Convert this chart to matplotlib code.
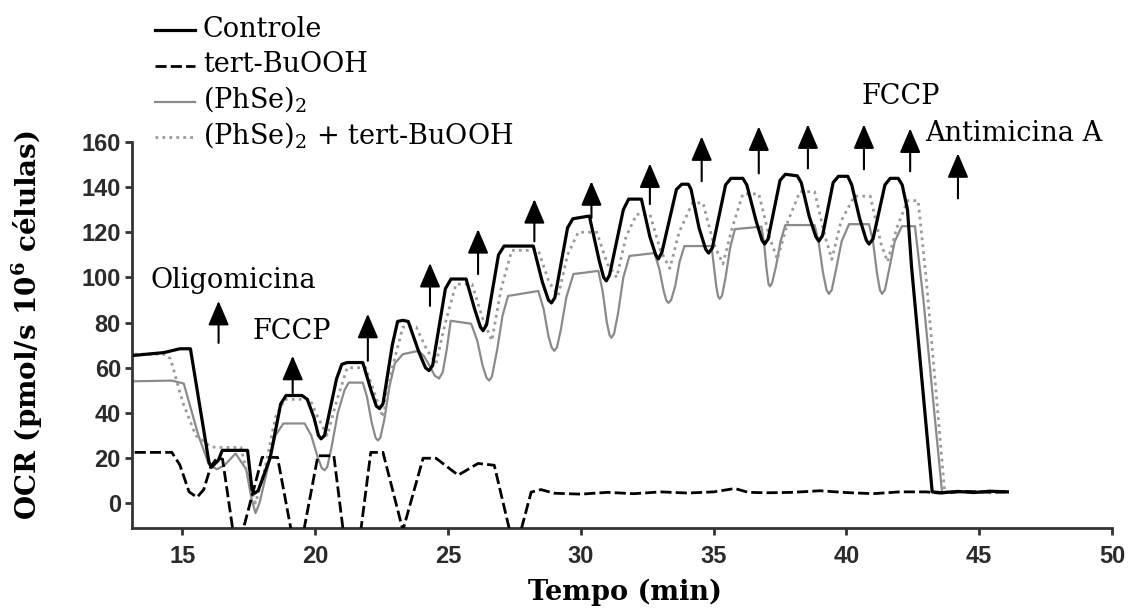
import matplotlib.pyplot as plt
from matplotlib.lines import Line2D

# ---------------- data ----------------
t_controle = [13.2, 14.3, 14.9, 15.3, 16.0, 16.1, 16.35, 16.5, 17.45, 17.62, 17.72, 17.85, 18.3, 18.7,
              18.9, 19.5, 19.7, 19.95, 20.12, 20.22, 20.35, 20.8, 21.0, 21.2, 21.79, 22.1, 22.3, 22.42,
              22.55, 22.9, 23.1, 23.3, 23.5, 23.9, 24.15, 24.28, 24.42, 24.9, 25.11, 25.68, 26.0, 26.22,
              26.32, 26.45, 26.9, 27.11, 28.21, 28.55, 28.78, 28.89, 29.02, 29.5, 29.7, 30.32, 30.7, 30.86,
              30.96, 31.08, 31.6, 31.8, 32.28, 32.6, 32.82, 32.92, 33.05, 33.6, 33.8, 34.05, 34.15, 34.45,
              34.7, 34.81, 34.95, 35.45, 35.65, 36.1, 36.25, 36.6, 36.82, 36.92, 37.05, 37.5, 37.7, 38.15,
              38.3, 38.6, 38.85, 38.96, 39.1, 39.5, 39.7, 40.05, 40.2, 40.5, 40.75, 40.85, 41.0, 41.45,
              41.65, 41.95, 42.1, 42.3, 42.45, 43.23, 43.6, 44.2, 44.8, 45.4, 46.06]
y_controle = [65.5, 66.7, 68.4, 68.4, 18, 16, 19, 23.4, 23.4, 6, 4.4, 5.5, 20, 44,
              47.7, 47.7, 46, 38, 30, 28.5, 30, 55, 61.5, 62.3, 62.3, 50, 43, 41.9,
              44, 70, 80.5, 81, 80.5, 67, 60, 58.7, 61, 95, 99.3, 99.3, 86, 78,
              76.4, 79, 110, 113.9, 113.9, 98, 90, 88.7, 91, 122, 126, 127.2, 107, 100,
              98.5, 101, 130, 134.7, 134.7, 118, 110, 108.2, 111, 139, 141.3, 141.3, 139, 122,
              112.5, 110.8, 113, 141, 143.9, 143.9, 141, 125, 116.5, 114.8, 117, 143, 145.7, 145,
              142, 127, 118, 116.1, 118.5, 142, 144.8, 144.8, 141, 126, 116.5, 114.8, 117, 141,
              143.9, 143.9, 141, 130, 105, 5, 4.6, 5.2, 4.7, 5.3, 5]

t_tbuooh = [13.2, 14.6, 14.9, 15.25, 15.55, 15.8, 16.06, 16.3, 16.51, 17.01, 17.3, 18.0, 18.58, 19.33,
            20.1, 20.7, 21.38, 22.09, 22.55, 23.3, 24.06, 24.55, 25.38, 26.13, 26.74, 27.52, 28.13, 28.5,
            29.0, 30.0, 31.0, 32.0, 33.0, 34.0, 35.0, 35.8, 36.3, 37.0, 38.0, 39.0, 40.0, 41.0,
            42.0, 43.0, 43.5, 44.5, 45.5, 46.06]
y_tbuooh = [22.5, 22.5, 17, 5, 2.6, 6, 16, 20, 19.5, -21, -11, 20.3, 20.3, -27,
            21, 21, -43, 22.5, 22.5, -12, 19.9, 19.9, 12.4, 17.6, 16.8, -22, 4.9, 6,
            4.4, 4, 4.8, 4.2, 5, 4.5, 5, 6.5, 4.8, 4.6, 4.8, 5.5, 4.7, 4.2,
            5, 5, 4.5, 5.2, 4.8, 5]

t_phse = [13.2, 14.6, 15.05, 15.6, 16.0, 16.3, 16.6, 17.0, 17.4, 17.6, 17.75, 17.9, 18.1, 18.5,
          18.8, 19.6, 19.85, 20.1, 20.25, 20.35, 20.45, 20.6, 20.85, 21.1, 21.26, 21.79, 21.95, 22.12,
          22.27, 22.36, 22.45, 22.6, 22.8, 23.0, 23.3, 23.9, 24.1, 24.3, 24.5, 24.66, 24.8, 24.95,
          25.1, 25.87, 26.1, 26.3, 26.45, 26.55, 26.65, 26.85, 27.05, 27.26, 28.4, 28.6, 28.78, 28.9,
          29.0, 29.1, 29.25, 29.45, 29.72, 30.66, 30.82, 30.98, 31.08, 31.15, 31.25, 31.4, 31.6, 31.83,
          32.77, 32.95, 33.12, 33.22, 33.3, 33.4, 33.55, 33.72, 33.9, 34.92, 35.0, 35.1, 35.17, 35.23,
          35.32, 35.45, 35.62, 35.8, 36.8, 36.9, 37.0, 37.07, 37.12, 37.2, 37.35, 37.52, 37.7, 38.8,
          38.95, 39.12, 39.25, 39.34, 39.45, 39.6, 39.82, 40.1, 40.85, 41.0, 41.15, 41.26, 41.34, 41.45,
          41.6, 41.82, 42.09, 42.58, 42.9, 43.6, 46.06]
y_phse = [54, 54.3, 53, 30, 17, 15, 17, 22, 15, 2, -4.4, 0, 10, 30,
          35.3, 35.3, 30, 20, 15.5, 14.6, 16, 24, 40, 50, 53.4, 53.4, 47, 36,
          29, 27.8, 29, 37, 52, 62, 66, 67.5, 65, 61, 56.5, 55.2, 58, 68,
          80.8, 79.5, 72, 61, 55.5, 54.3, 56, 68, 83, 91.8, 94, 86, 74, 69,
          67.5, 69, 77, 91, 101.5, 102.9, 94, 80, 74.5, 73.3, 75, 84, 100, 109.5,
          110.8, 104, 94, 89.8, 88.7, 90, 96, 107, 113.9, 113.9, 106, 96, 91.5, 90.5,
          92, 100, 113, 121.4, 122.5, 115, 103, 97, 96, 97.5, 105, 116, 123.2, 123.2,
          116, 102, 94.5, 92.7, 94.5, 103, 116, 123.6, 123.6, 116, 102, 94.5, 92.7, 94.5,
          103, 116, 122.7, 122.7, 90, 5, 5]

t_phse_tb = [13.2, 14.3, 14.55, 15.0, 15.5, 16.06, 16.3, 17.2, 17.5, 17.75, 18.1, 18.5, 18.85, 19.8,
             20.1, 20.45, 20.8, 21.2, 21.9, 22.25, 22.55, 22.9, 23.3, 23.8, 24.2, 24.55, 24.9, 25.3,
             25.9, 26.3, 26.65, 27.0, 27.4, 28.4, 28.8, 29.15, 29.5, 29.9, 30.6, 31.0, 31.35, 31.7,
             32.1, 32.6, 33.0, 33.35, 33.7, 34.2, 34.6, 35.0, 35.35, 35.7, 36.1, 36.7, 37.1, 37.4,
             37.8, 38.25, 38.8, 39.2, 39.45, 39.8, 40.3, 40.9, 41.3, 41.55, 41.9, 42.3, 42.7, 43.0,
             43.7, 46.06]
y_phse_tb = [66, 66, 64, 45, 30, 25, 24.7, 24.7, 10, 0, 15, 38, 46, 46,
             38, 30, 45, 60, 60, 48, 38, 60, 78, 78, 68, 62, 80, 97,
             97, 82, 72, 95, 112, 112, 98, 92, 110, 120, 120, 106, 100, 118,
             128, 128, 112, 104, 120, 133, 133, 115, 106, 122, 137, 137, 118, 108,
             125, 138, 138, 118, 108, 125, 136, 136, 115, 107, 122, 134, 134, 100,
             5, 5]

# injection arrows: time, head tip, tail
arrow_t = [16.36, 19.15, 21.98, 24.32, 26.13, 28.25, 30.4, 32.6, 34.55, 36.7, 38.55, 40.66, 42.4, 44.2]
arrow_top = [89.6, 65.3, 83.9, 106.4, 121.4, 134.7, 142.6, 150.5, 162.5, 166.9, 167.8, 167.8, 166, 155]
arrow_bottom = [71, 48.6, 63.1, 87.4, 101.5, 116, 126.3, 132.5, 142.6, 146.1, 148.3, 147.9, 147, 135]

labels = ['Controle', 'tert-BuOOH', r'(PhSe)$_2$', r'(PhSe)$_2$ + tert-BuOOH']

plt.rcParams['mathtext.fontset'] = 'dejavuserif'
serif = 'DejaVu Serif'

fig = plt.figure(figsize=(11.29, 6.12), dpi=100)
W, H = 1129, 612
ax = fig.add_axes([132 / W, 1 - 528 / H, 980 / W, 386 / H])

styles = [
    dict(color='black', lw=2.3, ls='-'),
    dict(color='black', lw=2.0, ls=(0, (4, 1.5))),
    dict(color='#8a8a8a', lw=1.6, ls='-'),
    dict(color='#9a9a9a', lw=2.0, ls=(0, (1, 1.5))),
]

ax.plot(t_phse, y_phse, zorder=2, **styles[2])
ax.plot(t_phse_tb, y_phse_tb, zorder=3, **styles[3])
ax.plot(t_tbuooh, y_tbuooh, zorder=4, **styles[1])
ax.plot(t_controle, y_controle, zorder=5, **styles[0])

for t, top, bot in zip(arrow_t, arrow_top, arrow_bottom):
    ax.annotate('', xy=(t, top), xytext=(t, bot), annotation_clip=False,
                arrowprops=dict(arrowstyle='-|>,head_length=0.75,head_width=0.32',
                                mutation_scale=20, color='black', lw=1.5,
                                shrinkA=0, shrinkB=0))

ax.text(13.79, 95.4, 'Oligomicina', family=serif, fontsize=19.5, va='baseline')
ax.text(17.64, 72.8, 'FCCP', family=serif, fontsize=19.5, va='baseline')
ax.text(40.58, 177, 'FCCP', family=serif, fontsize=19.5, va='baseline')
ax.text(42.96, 160.3, 'Antimicina A', family=serif, fontsize=19.5, va='baseline')

ax.set_xlim(13.1, 50)
ax.set_ylim(-11, 160)
ax.set_xticks(range(15, 51, 5))
ax.set_yticks(range(0, 161, 20))
for s in ['top', 'right']:
    ax.spines[s].set_visible(False)
for s in ['left', 'bottom']:
    ax.spines[s].set_linewidth(2)
    ax.spines[s].set_color('#333333')
ax.tick_params(length=5, width=2, color='#333333')
ax.tick_params(axis='x', pad=7)
ax.tick_params(axis='y', pad=3)
for lab in ax.get_xticklabels() + ax.get_yticklabels():
    lab.set_family('Liberation Sans')
    lab.set_fontweight('bold')
    lab.set_fontsize(17)
    lab.set_color('#2b2b2b')

ax.set_xlabel('Tempo (min)', family=serif, fontweight='bold', fontsize=19.5)
ax.xaxis.set_label_coords(0.503, -0.13)
ax.set_ylabel('OCR (pmol/s 10$^{\\mathbf{6}}$ células)', family=serif, fontweight='bold', fontsize=20)
ax.yaxis.label.set_va('center')
ax.yaxis.set_label_coords(-0.107, 0.526)

# legend drawn by hand at the top left
line_y = [30, 66, 102, 137]
text_y = [37, 72, 108, 143]
for i in range(4):
    fig.add_artist(Line2D([155 / W, 195 / W], [1 - line_y[i] / H] * 2, transform=fig.transFigure, **styles[i]))
    fig.text(203 / W, 1 - text_y[i] / H, labels[i], family=serif, fontsize=19.5, va='baseline')

fig.savefig('out.png', dpi=100)
